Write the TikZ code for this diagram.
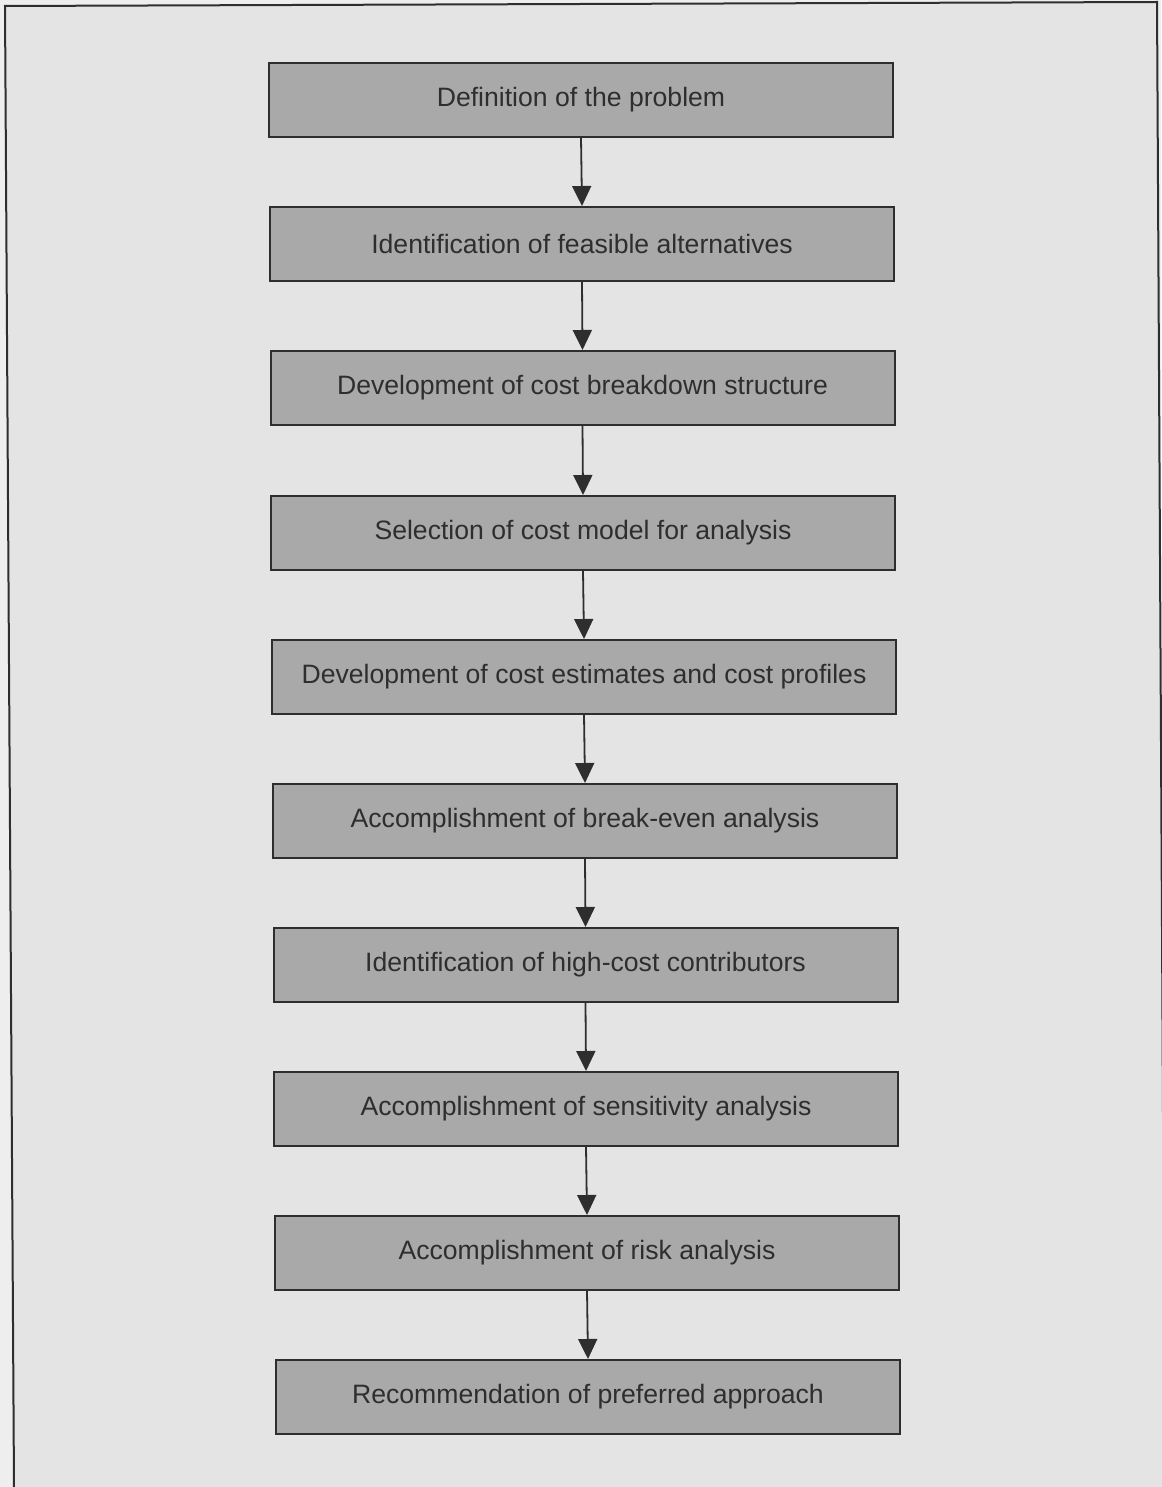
\documentclass[tikz,border=0pt]{standalone}
\usepackage{fontspec}
\setmainfont{Liberation Sans}
\usetikzlibrary{arrows.meta}
\definecolor{pagebg}{HTML}{E4E4E4}
\definecolor{outbg}{HTML}{EEEEEE}
\definecolor{boxfill}{HTML}{A9A9A9}
\definecolor{inkc}{HTML}{2E2E2E}
\tikzset{
  stepbox/.style={draw=inkc, line width=2pt, fill=boxfill, minimum width=624pt, minimum height=74pt, inner sep=0pt, text=inkc, font=\fontsize{26.6}{31}\selectfont},
  flowarrow/.style={draw=inkc, line width=1.8pt, -{Triangle[width=19pt,length=20pt]}}
}
\begin{document}
\begin{tikzpicture}[x=1pt,y=-1pt]
\useasboundingbox (0,0) rectangle (1161,1487);
\fill[outbg] (0,0) rectangle (1161,1487);
\fill[pagebg] (14,1487) -- (5,6) -- (1157,2) -- (1165,1487) -- cycle;
\draw[inkc, line width=2pt] (14,1487) -- (5,6) -- (1157,2) -- (1165,1487);
\node[stepbox] (b1)  at (581,100)  {Definition of the problem};
\node[stepbox] (b2)  at (582,244)  {Identification of feasible alternatives};
\node[stepbox] (b3)  at (582.5,388) {Development of cost breakdown structure};
\node[stepbox] (b4)  at (583,533)  {Selection of cost model for analysis};
\node[stepbox] (b5)  at (584,677)  {Development of cost estimates and cost profiles};
\node[stepbox] (b6)  at (585,821)  {Accomplishment of break-even analysis};
\node[stepbox] (b7)  at (585.5,965) {Identification of high-cost contributors};
\node[stepbox] (b8)  at (586,1109) {Accomplishment of sensitivity analysis};
\node[stepbox] (b9)  at (587,1253) {Accomplishment of risk analysis};
\node[stepbox] (b10) at (588,1397) {Recommendation of preferred approach};
\foreach \a/\b in {b1/b2,b2/b3,b3/b4,b4/b5,b5/b6,b6/b7,b7/b8,b8/b9,b9/b10}
  \draw[flowarrow] (\a.south) -- (\b.north);
\end{tikzpicture}
\end{document}
